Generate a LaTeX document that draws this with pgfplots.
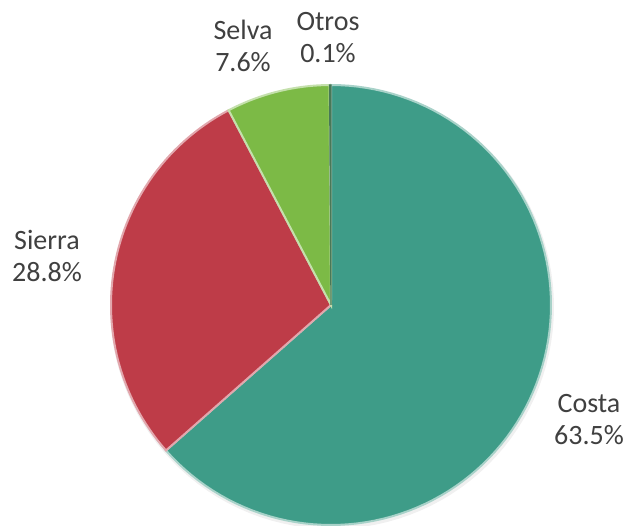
\documentclass[border=0pt]{standalone}
\usepackage{pgfplots}
\pgfplotsset{compat=1.18}
\usepackage{fontspec}
\setmainfont{Carlito}
\definecolor{costa}{RGB}{62,156,136}
\definecolor{sierra}{RGB}{190,60,72}
\definecolor{selva}{RGB}{124,186,70}
\definecolor{otros}{RGB}{90,150,110}
\definecolor{txt}{RGB}{64,64,64}
% shares in percent
\def\vCosta{63.5}
\def\vSierra{28.8}
\def\vSelva{7.6}
\def\vOtros{0.1}
\begin{document}
\begin{tikzpicture}
\pgfmathsetmacro{\aA}{90}
\pgfmathsetmacro{\aB}{\aA-\vCosta*3.6}
\pgfmathsetmacro{\aC}{\aB-\vSierra*3.6}
\pgfmathsetmacro{\aD}{\aC-\vSelva*3.6}
\pgfmathsetmacro{\aE}{\aD-\vOtros*3.6}
\begin{axis}[
  hide axis, scale only axis,
  width=251.6pt, height=210.4pt,
  xmin=0, xmax=629, ymin=0, ymax=526,
  clip=true,
]
\path[draw=none] (rel axis cs:0,0) rectangle (rel axis cs:1,1);
% soft shadow
\addplot[draw=none, fill=black, fill opacity=0.06, domain=0:360, samples=120]
  ({332+222*cos(x)},{219+222*sin(x)}) -- cycle;
\addplot[fill=costa, draw=white!55!costa, line width=0.8pt, domain=\aB:\aA, samples=100]
  ({331+220*cos(x)},{221+220*sin(x)}) -- (axis cs:331,221) -- cycle;
\addplot[fill=sierra, draw=white!55!sierra, line width=0.8pt, domain=\aC:\aB, samples=60]
  ({331+220*cos(x)},{221+220*sin(x)}) -- (axis cs:331,221) -- cycle;
\addplot[fill=selva, draw=white!55!selva, line width=0.8pt, domain=\aD:\aC, samples=20]
  ({331+220*cos(x)},{221+220*sin(x)}) -- (axis cs:331,221) -- cycle;
\addplot[fill=otros, draw=otros!80!black, line width=0.5pt, domain=\aE:\aD, samples=3]
  ({331+220*cos(x)},{221+220*sin(x)}) -- (axis cs:331,221) -- cycle;
% labels (anchor = baseline of the last line)
\tikzset{lbl/.style={text=txt, align=center, inner sep=0pt, font=\fontsize{11.2}{12.8}\selectfont}}
\node[lbl, anchor=base] at (axis cs:243,454) {Selva\\7.6\%};
\node[lbl, anchor=base] at (axis cs:328,463) {Otros\\0.1\%};
\node[lbl, anchor=base] at (axis cs:47,244) {Sierra\\28.8\%};
\node[lbl, anchor=base] at (axis cs:589,81) {Costa\\63.5\%};
\end{axis}
\end{tikzpicture}
\end{document}
